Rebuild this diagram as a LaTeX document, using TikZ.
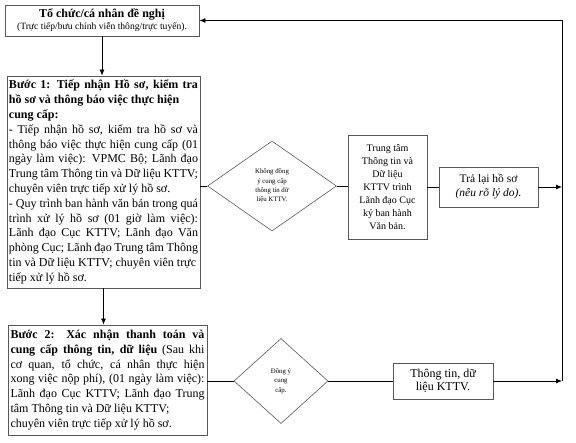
\documentclass[tikz,border=0pt]{standalone}
\usepackage{fontspec}
\setmainfont{Liberation Serif}
\usetikzlibrary{shapes.geometric,arrows.meta}
\newcommand{\lb}{\linebreak}
\newcommand{\jset}{\hyphenpenalty=10000 \tolerance=9999 \pretolerance=-1 }
\tikzset{
  box/.style={draw=black!65, line width=0.8pt, inner sep=0pt, minimum width=#1},
  dia/.style={draw=black!65, line width=0.6pt, diamond, inner sep=0pt, align=center, font=\fontsize{6.8}{9.3}\selectfont},
  conn/.style={draw=black, line width=0.8pt},
  arr/.style={conn, -{Latex[length=6pt,width=5pt]}},
  bodytext/.style={font=\fontsize{12}{14.8}\selectfont, align=justify}
}
\begin{document}
\begin{tikzpicture}[x=1pt,y=-1pt]
\useasboundingbox (0,0) rectangle (576,443);
% top box
\node[box=194pt, minimum height=31pt, align=center, font=\fontsize{12}{13}\selectfont] (top) at (102,20.5)
 {\textbf{Tổ chức/cá nhân đề nghị}\\[-1pt]{\fontsize{9.6}{11}\selectfont (Trực tiếp/bưu chính viễn thông/trực tuyến).}};
% step 1
\node[box=193pt, minimum height=212pt, text width=189pt, bodytext] (b1) at (103.5,182)
 {\jset\textbf{Bước 1: Tiếp nhận Hồ sơ, kiểm tra\lb hồ sơ và thông báo việc thực hiện\\ cung cấp:}\\
 - Tiếp nhận hồ sơ, kiểm tra hồ sơ và\lb thông báo việc thực hiện cung cấp (01\lb ngày làm việc): VPMC Bộ; Lãnh đạo\lb Trung tâm Thông tin và Dữ liệu KTTV;\\ chuyên viên trực tiếp xử lý hồ sơ.\\
 - Quy trình ban hành văn bản trong quá\lb trình xử lý hồ sơ (01 giờ làm việc):\lb Lãnh đạo Cục KTTV; Lãnh đạo Văn\lb phòng Cục; Lãnh đạo Trung tâm Thông\lb tin và Dữ liệu KTTV; chuyên viên trực\\ tiếp xử lý hồ sơ.};
% step 2
\node[box=199pt, minimum height=110pt, text width=194pt, bodytext] (b2) at (107.5,380)
 {\jset\textbf{Bước 2: Xác nhận thanh toán và\lb cung cấp thông tin, dữ liệu} (Sau khi\lb cơ quan, tổ chức, cá nhân thực hiện\lb xong việc nộp phí), (01 ngày làm việc):\lb Lãnh đạo Cục KTTV; Lãnh đạo Trung\lb tâm Thông tin và Dữ liệu KTTV;\\ chuyên viên trực tiếp xử lý hồ sơ.};
% diamonds
\node[dia, minimum width=129pt, minimum height=90pt] (d1) at (272,186)
 {Không đồng\\ý cung cấp\\thông tin dữ\\liệu KTTV.};
\node[dia, minimum width=94pt, minimum height=85pt] (d2) at (281,381)
 {Đồng ý\\cung\\cấp.};
% right boxes
\node[box=79pt, minimum height=104pt, align=center, font=\fontsize{10}{13}\selectfont] (tt) at (387.5,187)
 {Trung tâm\\Thông tin và\\Dữ liệu\\KTTV trình\\Lãnh đạo Cục\\ký ban hành\\Văn bản.};
\node[box=99pt, minimum height=40pt, align=center, font=\fontsize{11.5}{14}\selectfont] (tl) at (488.5,187)
 {Trả lại hồ sơ\\\textit{(nêu rõ lý do).}};
\node[box=100pt, minimum height=36pt, align=center, font=\fontsize{12}{13.5}\selectfont] (ti) at (443,381)
 {Thông tin, dữ\\liệu KTTV.};
% right rail
\coordinate (r1) at (562,187);
\coordinate (r2) at (562,381);
\coordinate (rt) at (562,20.5);
% connectors
\draw[arr] (top.south) -- (top.south |- b1.north);
\draw[arr] (b1.south) -- (b1.south |- b2.north);
\draw[conn] (b1.east |- d1.west) -- (d1.west);
\draw[conn] (d1.east) -- (tt.west |- d1.east);
\draw[conn] (tt.east) -- (tl.west);
\draw[arr] (tl.east) -- (r1);
\draw[conn] (b2.east |- d2.west) -- (d2.west);
\draw[conn] (d2.east) -- (ti.west);
\draw[arr] (ti.east) -- (r2);
\draw[conn] (r2) -- (rt);
\draw[arr] (rt) -- (top.east);
\end{tikzpicture}
\end{document}
